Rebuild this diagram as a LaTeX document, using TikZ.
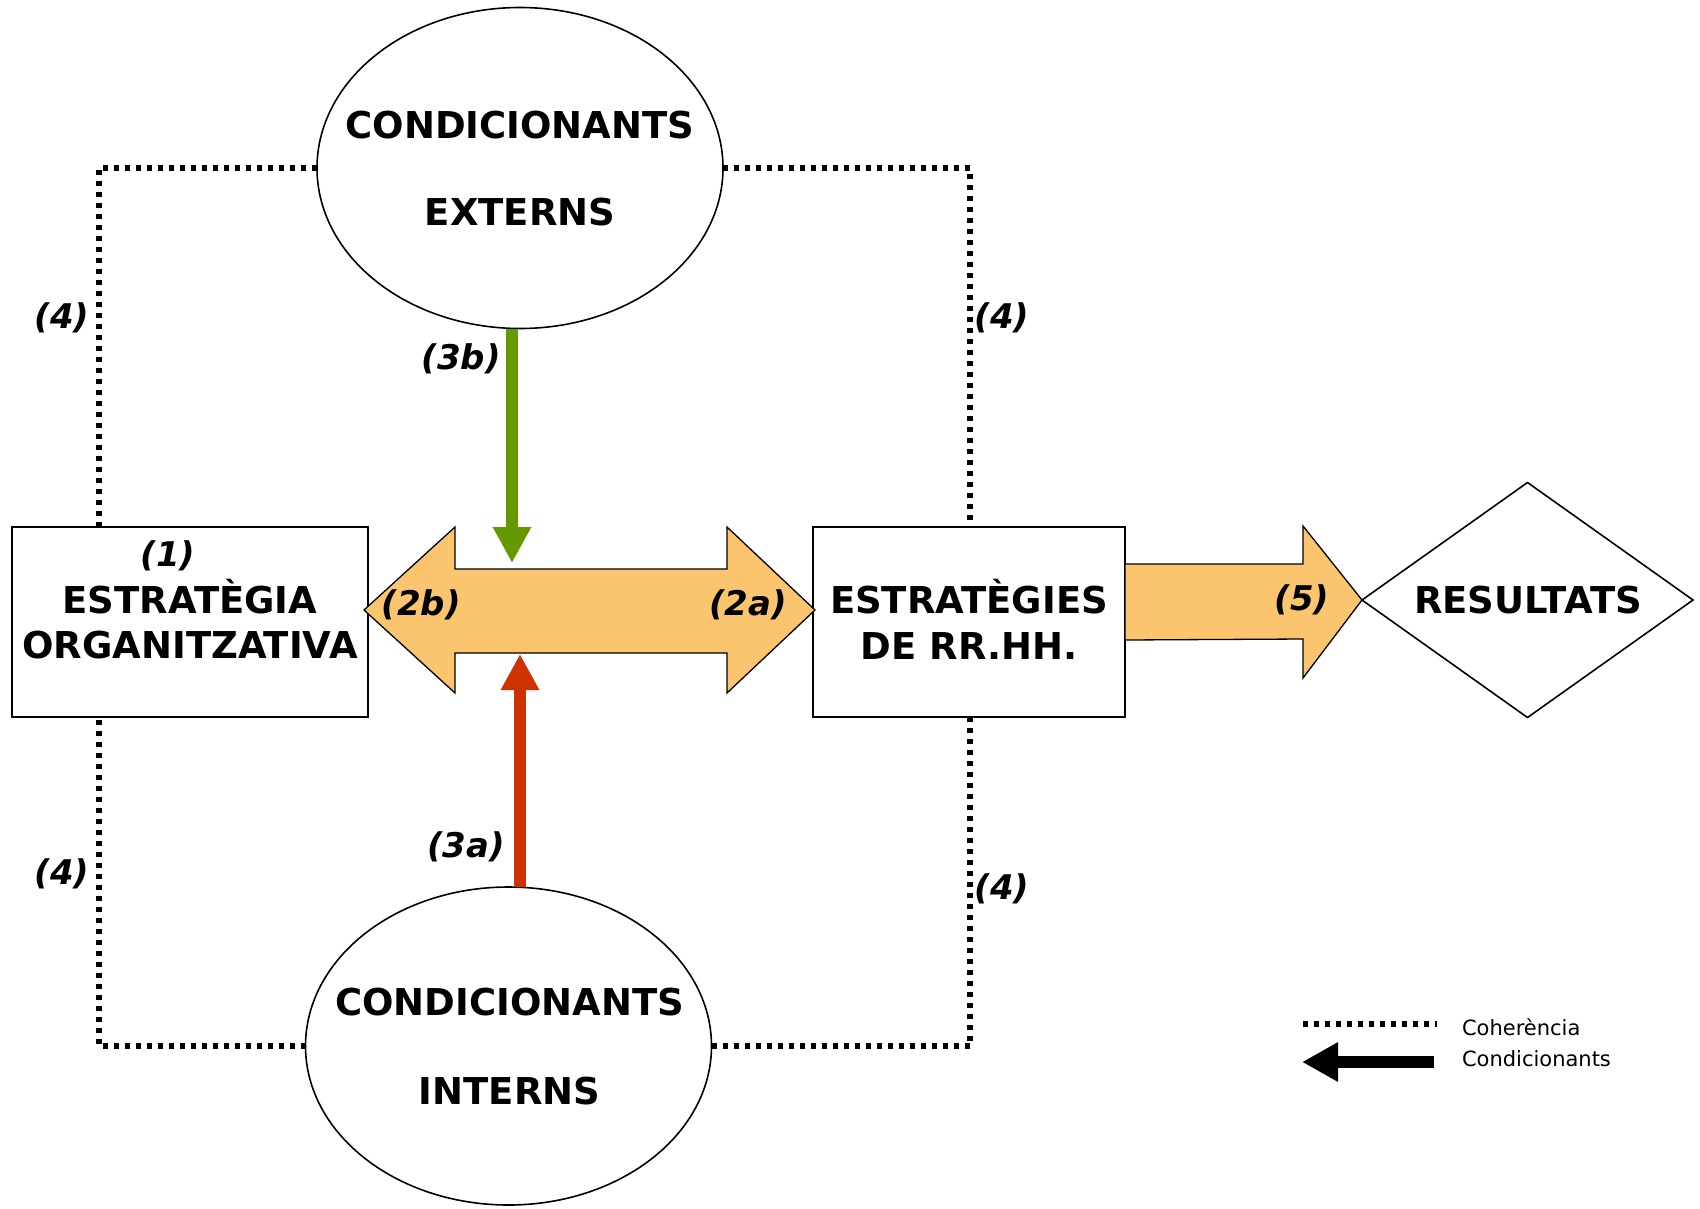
\documentclass[tikz,border=0pt]{standalone}
\usepackage{fontspec}
\setmainfont{DejaVu Sans}
\usetikzlibrary{shapes.geometric,arrows.meta,calc}
\definecolor{bandfill}{RGB}{250,197,110}
\definecolor{extgreen}{RGB}{102,153,0}
\definecolor{intred}{RGB}{204,51,0}

\begin{document}
\begin{tikzpicture}[x=1pt,y=-1pt,
  every node/.style={inner sep=0pt, outer sep=0pt},
  frame/.style={draw, line width=1.6pt},
  caption/.style={font=\fontsize{37}{42}\selectfont\bfseries, anchor=base, text depth=0pt},
  tag/.style={font=\fontsize{34}{38}\selectfont\bfseries\itshape},
  legtext/.style={font=\fontsize{21}{24}\selectfont, anchor=base west},
  coh/.style={line width=5.5pt, dash pattern=on 5pt off 6pt},
  cond/.style={line width=12pt, -{Triangle[width=36pt,length=36pt]}},
  bandarrow/.style={draw, line width=1.3pt, fill=bandfill, line join=miter}
]
\useasboundingbox (0,0) rectangle (1700,1208);

% main blocks
\node[frame, ellipse, minimum width=406pt, minimum height=321pt] (ext) at (520,168) {};
\node[frame, ellipse, minimum width=406pt, minimum height=318pt] (int) at (508.5,1046) {};
\node[frame, minimum width=356pt, minimum height=190pt] (org) at (190,622) {};
\node[frame, minimum width=312pt, minimum height=190pt] (rrhh) at (969,622) {};
\node[frame, diamond, aspect=1.41, minimum width=331pt, minimum height=235pt] (res) at (1527.5,600) {};

% block captions
\node[caption] (extA) at (520,138) {CONDICIONANTS};
\node[caption] (extB) at (520,225) {EXTERNS};
\node[caption] (intA) at (509.5,1015) {CONDICIONANTS};
\node[caption] (intB) at (509.5,1104) {INTERNS};
\node[tag] (orgnum) at (168,556) {(1)};
\node[caption] (orgA) at (190,613) {ESTRATÈGIA};
\node[caption] (orgB) at (190,658) {ORGANITZATIVA};
\node[caption] (rrhhA) at (969,613) {ESTRATÈGIES};
\node[caption] (rrhhB) at (969,659) {DE RR.HH.};
\node[caption] (resA) at (1528,613) {RESULTATS};

% coherence frame
\coordinate (cTL) at (99,168);
\coordinate (cTR) at (970,168);
\coordinate (cBL) at (99,1046);
\coordinate (cBR) at (970,1046);
\draw[coh] (ext.west) -- (cTL) -- (cTL |- org.north);
\draw[coh] (ext.east) -- (cTR) -- (cTR |- rrhh.north);
\draw[coh] (int.west) -- (cBL) -- (cBL |- org.south);
\draw[coh] (int.east) -- (cBR) -- (cBR |- rrhh.south);

% two-way band between the strategies
\coordinate (L) at ($(org.east)+(-4,-12)$);
\coordinate (R) at ($(rrhh.west)+(2,-12)$);
\path[bandarrow] (L) -- ++(91,-83) -- ++(0,42) -- ($(R)+(-88,-41)$) -- ++(0,-42)
  -- (R) -- ++(-88,83) -- ++(0,-40) -- ($(L)+(91,43)$) -- ++(0,40) -- cycle;

% band towards the results
\coordinate (S) at ($(rrhh.east |- res.west)+(0,1)$);
\path[bandarrow] ($(S)+(0,-37)$) -- ($(res.west)+(-59,-36)$) -- ++(0,-38) -- (res.west)
  -- ($(res.west)+(-59,78)$) -- ++(0,-39) -- ($(S)+(0,39)$) -- cycle;

% external and internal conditioning arrows
\coordinate (gtip) at (512,563);
\draw[cond, extgreen] ([xshift=-8pt]ext.south) -- (gtip);
\coordinate (rtip) at (520,654);
\draw[cond, intred] ([xshift=11.5pt]int.north) -- (rtip);

% numbered tags
\node[tag] (t4a) at (62,318) {(4)};
\node[tag] (t4b) at (1002,318) {(4)};
\node[tag] (t4c) at (62,874) {(4)};
\node[tag] (t4d) at (1002,889) {(4)};
\node[tag] (t3b) at (461,359) {(3b)};
\node[tag] (t3a) at (466,847) {(3a)};
\node[tag] (t2b) at (421,605) {(2b)};
\node[tag] (t2a) at (748,605) {(2a)};
\node[tag] (t5) at (1302,600) {(5)};

% legend
\coordinate (legA) at (1303,1024);
\coordinate (legB) at (1437,1024);
\draw[coh] (legA) -- (legB);
\coordinate (legC) at (1434,1062);
\coordinate (legD) at (1302,1062);
\draw[line width=12pt, -{Triangle[width=37pt,length=36pt]}] (legC) -- (legD);
\node[legtext] (legcoh) at (1462,1035) {Coherència};
\node[legtext] (legcond) at (1462,1066) {Condicionants};
\end{tikzpicture}
\end{document}
